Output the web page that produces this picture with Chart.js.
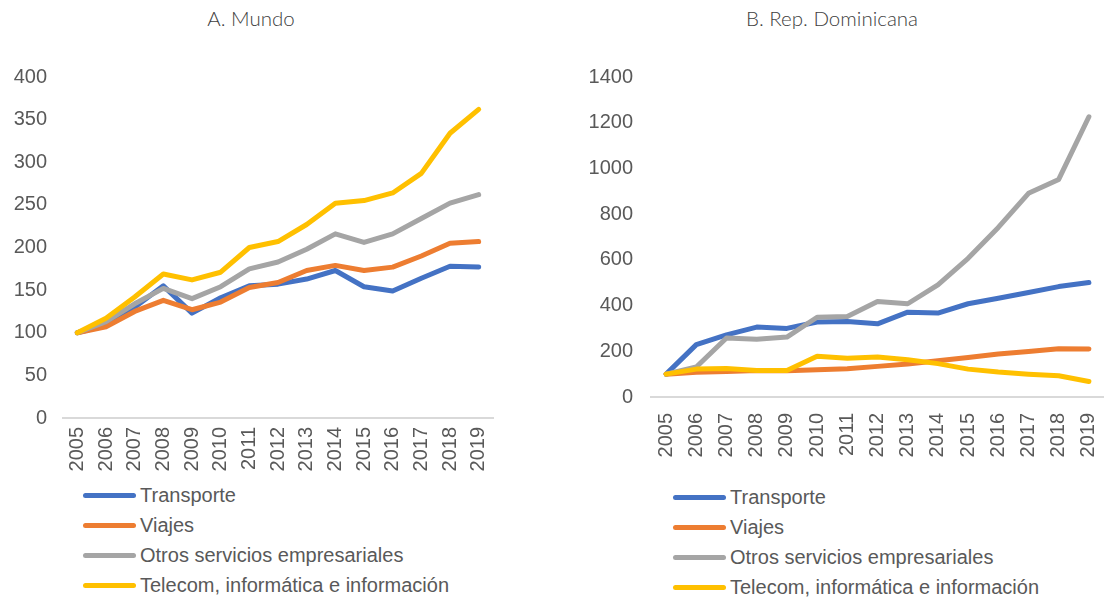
<!DOCTYPE html>
<html>
<head>
<meta charset="utf-8">
<script src="https://cdn.jsdelivr.net/npm/chart.js@4/dist/chart.umd.min.js"></script>
<style>
    body { margin: 0; background: #fff; width: 1104px; height: 600px; position: relative; overflow: hidden; font-family: 'Liberation Sans', Arial, sans-serif; }
    canvas { position: absolute; top: 0; }
    .title { position: absolute; top: 6px; font-family: Lato, 'Open Sans', sans-serif; font-weight: 300; font-size: 20.5px; color: #404040; transform: translateX(-50%); white-space: nowrap; }
    .legend { position: absolute; font-size: 20px; color: #595959; }
    .legend .row { height: 30px; display: flex; align-items: center; white-space: nowrap; }
    .legend .ln { display: inline-block; width: 53px; height: 5px; border-radius: 3px; margin-right: 4px; }
</style>
</head>
<body>
<div class="title" style="left:251px">A. Mundo</div>
<div class="title" style="left:832px">B. Rep. Dominicana</div>
<canvas id="mundoChart" width="550" height="480" style="left:0"></canvas>
<canvas id="rdChart" width="580" height="460" style="left:550px"></canvas>
<div class="legend" id="mundoLegend" style="left:83px; top:480px"></div>
<div class="legend" id="rdLegend" style="left:673px; top:482px"></div>

<script>
// Data
const years = ['2005', '2006', '2007', '2008', '2009', '2010', '2011', '2012', '2013', '2014', '2015', '2016', '2017', '2018', '2019'];
const seriesNames = ['Transporte', 'Viajes', 'Otros servicios empresariales', 'Telecom, informática e información'];
const seriesColors = ['#4472C4', '#ED7D31', '#A5A5A5', '#FFC000'];

// A. Mundo
const mundoTransporte = [100, 109, 130, 155, 123, 141, 155, 157, 163, 173, 154, 149, 164, 178, 177];
const mundoViajes = [100, 107, 125, 138, 127, 136, 153, 159, 173, 179, 173, 177, 190, 205, 207];
const mundoOtros = [100, 113, 134, 152, 140, 154, 175, 183, 198, 216, 206, 216, 234, 252, 262];
const mundoTelecom = [100, 117, 142, 169, 162, 171, 200, 207, 227, 252, 255, 264, 287, 334, 362];
const mundoYTicks = [0, 50, 100, 150, 200, 250, 300, 350, 400];

// B. Rep. Dominicana
const rdTransporte = [100, 229, 272, 306, 300, 328, 330, 320, 371, 367, 408, 432, 457, 483, 501];
const rdViajes = [100, 108, 112, 116, 115, 119, 124, 134, 144, 159, 173, 188, 199, 211, 210];
const rdOtros = [100, 131, 258, 253, 262, 349, 352, 418, 408, 491, 607, 742, 891, 952, 1226];
const rdTelecom = [100, 122, 125, 116, 116, 178, 170, 175, 163, 146, 122, 109, 100, 93, 68];
const rdYTicks = [0, 200, 400, 600, 800, 1000, 1200, 1400];

const tickFont = { family: "'Liberation Sans', Arial, sans-serif", size: 20 };

function buildLegend(id) {
    const box = document.getElementById(id);
    seriesNames.forEach((name, i) => {
        const row = document.createElement('div');
        row.className = 'row';
        const ln = document.createElement('span');
        ln.className = 'ln';
        ln.style.background = seriesColors[i];
        row.appendChild(ln);
        row.appendChild(document.createTextNode(name));
        box.appendChild(row);
    });
}

function makeChart(id, series, yTicks, cfg) {
    const ctx = document.getElementById(id).getContext('2d');
    return new Chart(ctx, {
        type: 'line',
        data: {
            labels: years,
            datasets: series.map((values, i) => ({
                label: seriesNames[i],
                data: values,
                borderColor: seriesColors[i],
                backgroundColor: seriesColors[i],
                borderWidth: 5,
                borderCapStyle: 'round',
                borderJoinStyle: 'round',
                pointRadius: 0,
                tension: 0,
                order: series.length - 1 - i
            }))
        },
        options: {
            responsive: false,
            animation: false,
            layout: { padding: cfg.padding },
            plugins: {
                legend: { display: false },
                tooltip: { enabled: false }
            },
            scales: {
                x: {
                    offset: true,
                    grid: { display: false, drawTicks: false },
                    border: { color: '#D9D9D9', width: 2 },
                    ticks: {
                        autoSkip: false,
                        minRotation: 90,
                        maxRotation: 90,
                        padding: cfg.xPad,
                        color: '#595959',
                        font: tickFont
                    },
                    afterFit: (scale) => { scale.height = 60; }
                },
                y: {
                    min: yTicks[0],
                    max: yTicks[yTicks.length - 1],
                    grid: { display: false, drawTicks: false },
                    border: { display: false },
                    ticks: {
                        stepSize: yTicks[1] - yTicks[0],
                        padding: cfg.yPad,
                        color: '#595959',
                        font: tickFont,
                        callback: (value) => String(value)
                    },
                    afterFit: (scale) => { scale.width = cfg.yWidth; }
                }
            }
        }
    });
}

makeChart('mundoChart', [mundoTransporte, mundoViajes, mundoOtros, mundoTelecom], mundoYTicks, {
    padding: { top: 77, left: 0, right: 57, bottom: 2 },
    yWidth: 63, yPad: 16, xPad: 9
});

makeChart('rdChart', [rdTransporte, rdViajes, rdOtros, rdTelecom], rdYTicks, {
    padding: { top: 77, left: 0, right: 26, bottom: 3 },
    yWidth: 101, yPad: 18, xPad: 16
});

buildLegend('mundoLegend');
buildLegend('rdLegend');
</script>
</body>
</html>
